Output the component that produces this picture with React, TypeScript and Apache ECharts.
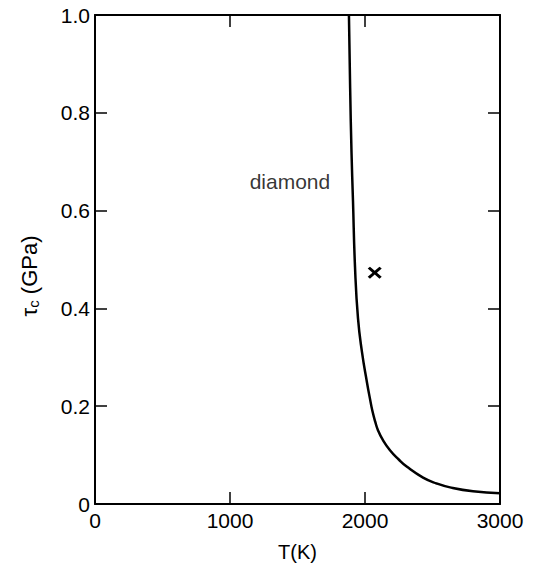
import React, { useEffect, useRef } from "react";
import * as echarts from "echarts";

const curveT = [1881, 1890, 1900, 1911, 1926, 1948, 1978, 2015, 2037, 2055, 2075, 2096, 2130, 2185, 2250, 2311, 2430, 2530, 2630, 2800, 3000];
const curveTau = [1.0, 0.85, 0.72, 0.62, 0.485, 0.38, 0.31, 0.248, 0.215, 0.19, 0.169, 0.151, 0.132, 0.11, 0.091, 0.076, 0.054, 0.042, 0.034, 0.026, 0.022];
const markT = [2072];
const markTau = [0.473];
const xTicks = [0, 1000, 2000, 3000];
const yTickLabels = ["0", "0.2", "0.4", "0.6", "0.8", "1.0"];
const labelText = "diamond";
const labelPos = [1444, 0.66];

const FONT = "'Liberation Sans', Arial, Helvetica, sans-serif";

export default function App() {
  const ref = useRef<HTMLDivElement>(null);
  useEffect(() => {
    if (!ref.current) return;
    const chart = echarts.init(ref.current, null, { renderer: "svg" });
    const axisLine = { show: true, onZero: false, lineStyle: { color: "#000", width: 2 } };
    const axisTick = { show: true, inside: true, length: 12, lineStyle: { color: "#000", width: 1.5 } };
    const xFmt = (v: number) => (xTicks.includes(v) ? String(v) : "");
    const yFmt = (v: number) => {
      const i = Math.round(v / 0.2);
      return yTickLabels[i] ?? "";
    };
    chart.setOption({
      animation: false,
      backgroundColor: "#fff",
      grid: { left: 95, right: 34, top: 15, bottom: 63, containLabel: false },
      xAxis: [
        {
          type: "value",
          min: 0,
          max: 3000,
          interval: 1000,
          position: "bottom",
          axisLine,
          axisTick,
          splitLine: { show: false },
          axisLabel: { color: "#000", fontSize: 21, fontFamily: FONT, margin: 6, formatter: xFmt },
          name: "T(K)",
          nameLocation: "middle",
          nameGap: 38,
          nameTextStyle: { color: "#000", fontSize: 20, fontFamily: FONT },
        },
        {
          type: "value",
          min: 0,
          max: 3000,
          interval: 1000,
          position: "top",
          axisLine,
          axisTick,
          splitLine: { show: false },
          axisLabel: { show: false },
        },
      ],
      yAxis: [
        {
          type: "value",
          min: 0,
          max: 1,
          interval: 0.2,
          position: "left",
          axisLine,
          axisTick,
          splitLine: { show: false },
          axisLabel: { color: "#000", fontSize: 21, fontFamily: FONT, margin: 5, formatter: yFmt },
        },
        {
          type: "value",
          min: 0,
          max: 1,
          interval: 0.2,
          position: "right",
          axisLine,
          axisTick,
          splitLine: { show: false },
          axisLabel: { show: false },
        },
      ],
      series: [
        {
          type: "line",
          data: curveT.map((t, i) => [t, curveTau[i]]),
          smooth: 0.5,
          showSymbol: false,
          symbol: "none",
          lineStyle: { color: "#000", width: 2.5 },
          clip: true,
        },
        {
          type: "scatter",
          data: markT.map((t, i) => [t, markTau[i]]),
          symbol: "path://M0,1.6L1.6,0L5,3.4L8.4,0L10,1.6L6.6,5L10,8.4L8.4,10L5,6.6L1.6,10L0,8.4L3.4,5Z",
          symbolSize: [14, 12],
          itemStyle: { color: "#000", opacity: 1 },
        },
        {
          type: "scatter",
          data: [labelPos],
          symbolSize: 0,
          itemStyle: { color: "transparent" },
          label: {
            show: true,
            position: "inside",
            formatter: labelText,
            color: "#000",
            fontSize: 21,
            fontFamily: FONT,
          },
        },
      ],
      graphic: [
        {
          type: "text",
          x: 29,
          y: 276,
          rotation: Math.PI / 2,
          style: {
            text: "{a|τ}{s|c}{a| (GPa)}",
            align: "center",
            verticalAlign: "middle",
            fill: "#000",
            rich: {
              a: { fontSize: 22, fontFamily: FONT, fill: "#000" },
              s: { fontSize: 15, fontFamily: FONT, fill: "#000", padding: [8, 0, 0, 0] },
            },
          },
        },
      ],
    });
    return () => chart.dispose();
  }, []);
  return (
    <div
      ref={ref}
      style={{ position: "fixed", left: 0, top: 0, width: 534, height: 567, background: "#fff" }}
    />
  );
}
